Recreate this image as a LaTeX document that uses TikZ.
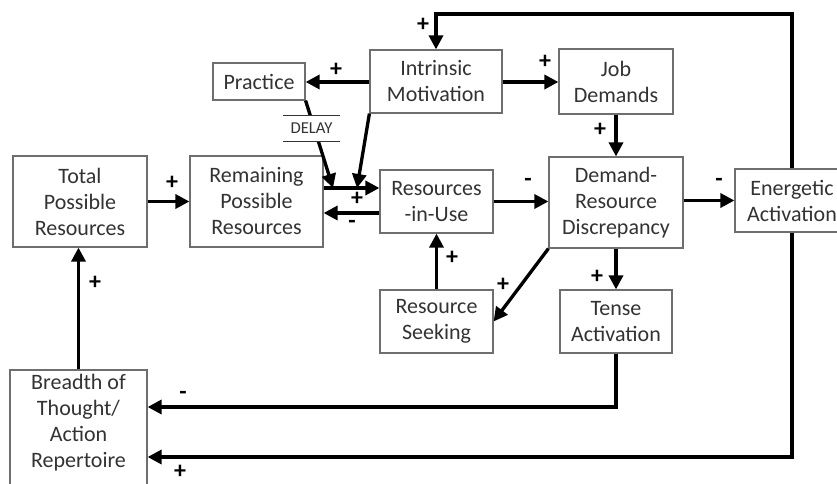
\documentclass[tikz,border=0pt]{standalone}
\usepackage{fontspec}
\setmainfont{Carlito}
\usetikzlibrary{arrows.meta}
\definecolor{boxgray}{HTML}{6E6E6E}
\definecolor{txt}{HTML}{333333}
\begin{document}
\begin{tikzpicture}[x=0.75pt,y=-0.75pt,
  box/.style={draw=boxgray, line width=0.9pt, fill=white, align=center, text=txt,
    font=\fontsize{16.5}{19.5}\selectfont, inner sep=0pt},
  wh/.style 2 args={minimum width=#1*0.75pt, minimum height=#2*0.75pt},
  conn/.style={line width=2.5pt, -{Triangle[length=10.5pt,width=10.5pt]}},
  sgn/.style={font=\bfseries\fontsize{18}{18}\selectfont, inner sep=0pt, text=black},
  btxt/.style={align=center, text=txt, font=\fontsize{16.5}{19.5}\selectfont, inner sep=0pt}]
\useasboundingbox[fill=white] (0,0) rectangle (837,484);

% boxes
\node[box, wh={92}{37}]   (practice)  at (259,81.5)   {Practice};
\node[box, wh={132}{63}]  (intrinsic) at (436,81.5)   {Intrinsic\\Motivation};
\node[box, wh={114}{65}]  (job)       at (616,81.5)   {Job\\Demands};
\node[box, wh={134}{91}]  (total)     at (80,201.5)   {Total\\Possible\\Resources};
\node[box, wh={133}{91}]  (remaining) at (256.5,201.5){Remaining\\Possible\\Resources};
\node[box, wh={113}{63}]  (resuse)    at (436.5,201.5){Resources\\-in-Use};
\node[box, wh={134}{91}]  (demand)    at (616,202.5)  {Demand-\\Resource\\Discrepancy};
\node[box, wh={114}{63}]  (energetic) at (792,200.5)  {Energetic\\Activation};
\node[box, wh={113}{63}]  (resseek)   at (436.5,321.5){Resource\\Seeking};
\node[box, wh={112}{63}]  (tense)     at (616,321.5)  {Tense\\Activation};
\node[box, wh={137}{150}] (breadth)   at (78.5,445)   {};
\node[btxt] (breadthtxt) at (78.5,423) {Breadth of\\Thought/\\Action\\Repertoire};

% helper coordinates
\coordinate (j1) at (333,188);
\coordinate (j2) at (357,188);
\coordinate (back) at (0,213);
\coordinate (topy) at (0,14);
\coordinate (tensey) at (0,407);
\coordinate (boty) at (0,457);

% connectors
\draw[conn] (total) -- (remaining);
\draw[conn] (remaining.east |- j1) -- (resuse.west |- j1);
\draw[conn] (resuse.west |- back) -- (remaining.east |- back);
\draw[conn] (resuse) -- (demand.west |- resuse);
\draw[conn] (demand.east |- energetic) -- (energetic);
\draw[conn] (job) -- (demand);
\draw[conn] (intrinsic.east |- 0,82) -- (job.west |- 0,82);
\draw[conn] (intrinsic.west |- 0,82) -- (practice.east |- 0,82);
\draw[conn] (practice.south east) -- (j1);
\draw[conn] (intrinsic.south west) -- (j2);
\draw[conn] (resseek) -- (resuse);
\draw[conn] (demand.south west) -- (resseek.east);
\draw[conn] (demand) -- (tense);
\draw[conn] (tense.south) -- (tense.south |- tensey) -- (breadth.east |- tensey);
\draw[conn] (energetic.south) -- (energetic.south |- boty) -- (breadth.east |- boty);
\draw[conn] (energetic.north) -- (energetic.north |- topy) -| (intrinsic.north);
\draw[conn] (breadth.north) -- (breadth.north |- total.south);

% delay marker
\node[fill=white, inner sep=0pt, wh={57}{25}, text=txt, font=\fontsize{12.5}{14}\selectfont] (delay) at (311.5,128.5) {DELAY};
\draw[line width=1.1pt, black!80] (delay.north west) -- (delay.north east);
\draw[line width=1.1pt, black!80] (delay.south west) -- (delay.south east);

% signs
\node[sgn] (s1)  at (172,183) {+};
\node[sgn] (s2)  at (357,199) {+};
\node[sgn] (s3)  at (352,224) {-};
\node[sgn] (s4)  at (528,182) {-};
\node[sgn] (s5)  at (719,182) {-};
\node[sgn] (s6)  at (600,130) {+};
\node[sgn] (s7)  at (545,62)  {+};
\node[sgn] (s8)  at (336,70)  {+};
\node[sgn] (s9)  at (423,25)  {+};
\node[sgn] (s10) at (452,258) {+};
\node[sgn] (s11) at (503,285) {+};
\node[sgn] (s12) at (597,277) {+};
\node[sgn] (s13) at (183,395) {-};
\node[sgn] (s14) at (180,472) {+};
\node[sgn] (s15) at (95,283)  {+};
\end{tikzpicture}
\end{document}
